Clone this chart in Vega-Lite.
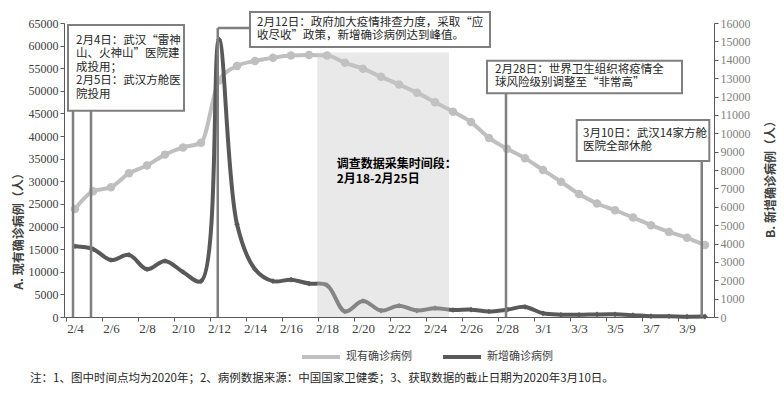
{
  "$schema": "https://vega.github.io/schema/vega-lite/v6.json",
  "width": 650,
  "height": 294,
  "autosize": "none",
  "padding": {"left": 64, "top": 23, "right": 70, "bottom": 78},
  "background": "white",
  "title": {
    "text": "注：1、图中时间点均为2020年；2、病例数据来源：中国国家卫健委；3、获取数据的截止日期为2020年3月10日。",
    "orient": "bottom", "anchor": "start", "frame": "group", "dx": -34, "offset": 8,
    "font": "Noto Sans CJK SC", "fontSize": 11.5, "fontWeight": "normal", "color": "#262626"
  },
  "datasets": {
    "cases": [
      {"date": "2020-02-04T00:00:00", "existing": 23900, "new": 3850},
      {"date": "2020-02-05T00:00:00", "existing": 27800, "new": 3700},
      {"date": "2020-02-06T00:00:00", "existing": 28700, "new": 3100},
      {"date": "2020-02-07T00:00:00", "existing": 31770, "new": 3380},
      {"date": "2020-02-08T00:00:00", "existing": 33500, "new": 2600},
      {"date": "2020-02-09T00:00:00", "existing": 35900, "new": 3050},
      {"date": "2020-02-10T00:00:00", "existing": 37500, "new": 2450},
      {"date": "2020-02-11T00:00:00", "existing": 38500, "new": 1950},
      {"date": "2020-02-12T00:00:00", "existing": 52300, "new": 15100},
      {"date": "2020-02-13T00:00:00", "existing": 55500, "new": 5050},
      {"date": "2020-02-14T00:00:00", "existing": 56600, "new": 2600},
      {"date": "2020-02-15T00:00:00", "existing": 57300, "new": 1950},
      {"date": "2020-02-16T00:00:00", "existing": 57800, "new": 2030},
      {"date": "2020-02-17T00:00:00", "existing": 57900, "new": 1820},
      {"date": "2020-02-18T00:00:00", "existing": 57800, "new": 1730},
      {"date": "2020-02-19T00:00:00", "existing": 56200, "new": 300},
      {"date": "2020-02-20T00:00:00", "existing": 54900, "new": 870},
      {"date": "2020-02-21T00:00:00", "existing": 53100, "new": 350},
      {"date": "2020-02-22T00:00:00", "existing": 51400, "new": 610},
      {"date": "2020-02-23T00:00:00", "existing": 49600, "new": 350},
      {"date": "2020-02-24T00:00:00", "existing": 47500, "new": 480},
      {"date": "2020-02-25T00:00:00", "existing": 45400, "new": 380},
      {"date": "2020-02-26T00:00:00", "existing": 43100, "new": 400},
      {"date": "2020-02-27T00:00:00", "existing": 39600, "new": 300},
      {"date": "2020-02-28T00:00:00", "existing": 37200, "new": 400},
      {"date": "2020-02-29T00:00:00", "existing": 35100, "new": 550},
      {"date": "2020-03-01T00:00:00", "existing": 32500, "new": 200},
      {"date": "2020-03-02T00:00:00", "existing": 29900, "new": 125},
      {"date": "2020-03-03T00:00:00", "existing": 27200, "new": 119},
      {"date": "2020-03-04T00:00:00", "existing": 25100, "new": 139},
      {"date": "2020-03-05T00:00:00", "existing": 23600, "new": 143},
      {"date": "2020-03-06T00:00:00", "existing": 22000, "new": 99},
      {"date": "2020-03-07T00:00:00", "existing": 20300, "new": 44},
      {"date": "2020-03-08T00:00:00", "existing": 18800, "new": 40},
      {"date": "2020-03-09T00:00:00", "existing": 17500, "new": 19},
      {"date": "2020-03-10T00:00:00", "existing": 15900, "new": 24}
    ],
    "shade": [
      {"x": "2020-02-17T11:00:00", "x2": "2020-02-24T18:40:00", "y": 0, "y2": 58500}
    ],
    "rules": [
      {"x": "2020-02-03T21:20:00", "x2": "2020-02-03T21:20:00", "y": 0, "y2": 45611},
      {"x": "2020-02-04T21:20:00", "x2": "2020-02-04T21:20:00", "y": 0, "y2": 45611},
      {"x": "2020-02-11T22:20:00", "x2": "2020-02-11T22:20:00", "y": 0, "y2": 63895},
      {"x": "2020-02-11T22:20:00", "x2": "2020-02-13T17:20:00", "y": 63895, "y2": 63895},
      {"x": "2020-02-27T22:40:00", "x2": "2020-02-27T22:40:00", "y": 0, "y2": 49458},
      {"x": "2020-03-09T19:40:00", "x2": "2020-03-09T19:40:00", "y": 0, "y2": 34490}
    ],
    "boxes": [
      {"x": "2020-02-03T14:40:00", "x2": "2020-02-10T01:20:00", "y": 45611, "y2": 64558},
      {"x": "2020-02-13T17:20:00", "x2": "2020-02-27T01:20:00", "y": 59694, "y2": 67432},
      {"x": "2020-02-26T21:20:00", "x2": "2020-03-08T17:20:00", "y": 49458, "y2": 56666},
      {"x": "2020-03-02T21:00:00", "x2": "2020-03-10T05:45:00", "y": 34490, "y2": 43555}
    ],
    "notes": [
      {"x": "2020-02-04T01:20:00", "y": 62414, "text": "2月4日：武汉“雷神\n山、火神山”医院建\n成投用；\n2月5日：武汉方舱医\n院投用"},
      {"x": "2020-02-14T02:40:00", "y": 66327, "text": "2月12日：政府加大疫情排查力度，采取“应\n收尽收”政策，新增确诊病例达到峰值。"},
      {"x": "2020-02-27T08:00:00", "y": 55936, "text": "2月28日：世界卫生组织将疫情全\n球风险级别调整至“非常高”"},
      {"x": "2020-03-03T05:20:00", "y": 41786, "text": "3月10日：武汉14家方舱\n医院全部休舱"}
    ],
    "shadeNote": [
      {"x": "2020-02-18T13:00:00", "y": 34822, "text": "调查数据采集时间段：\n2月18-2月25日"}
    ]
  },
  "layer": [
    {
      "data": {"name": "cases"},
      "encoding": {
        "x": {
          "field": "date", "type": "temporal", "title": null,
          "scale": {"domain": [{"year": 2020, "month": 2, "date": 3, "hours": 9, "minutes": 20}, {"year": 2020, "month": 3, "date": 10, "hours": 12}], "nice": false},
          "axis": {
            "values": [
              {"year": 2020, "month": 2, "date": 4}, {"year": 2020, "month": 2, "date": 6},
              {"year": 2020, "month": 2, "date": 8}, {"year": 2020, "month": 2, "date": 10},
              {"year": 2020, "month": 2, "date": 12}, {"year": 2020, "month": 2, "date": 14},
              {"year": 2020, "month": 2, "date": 16}, {"year": 2020, "month": 2, "date": 18},
              {"year": 2020, "month": 2, "date": 20}, {"year": 2020, "month": 2, "date": 22},
              {"year": 2020, "month": 2, "date": 24}, {"year": 2020, "month": 2, "date": 26},
              {"year": 2020, "month": 2, "date": 28}, {"year": 2020, "month": 3, "date": 1},
              {"year": 2020, "month": 3, "date": 3}, {"year": 2020, "month": 3, "date": 5},
              {"year": 2020, "month": 3, "date": 7}, {"year": 2020, "month": 3, "date": 9}
            ],
            "format": "%-m/%-d",
            "labelFont": "Liberation Serif", "labelFontSize": 13, "labelColor": "#404040",
            "tickSize": 4, "tickColor": "#595959", "domainColor": "#595959",
            "labelPadding": 1, "tickOffset": -9, "labelOffset": 9,
            "labelFlush": false, "labelOverlap": false, "grid": false
          }
        },
        "y": {
          "field": "existing", "type": "quantitative", "title": "A. 现有确诊病例（人）",
          "scale": {"domain": [0, 65000], "nice": false},
          "axis": {
            "orient": "left",
            "values": [0, 5000, 10000, 15000, 20000, 25000, 30000, 35000, 40000, 45000, 50000, 55000, 60000, 65000],
            "format": "d",
            "labelFont": "Liberation Serif", "labelFontSize": 12, "labelColor": "#404040",
            "tickSize": 4, "tickColor": "#595959", "domainColor": "#595959", "labelPadding": 2,
            "titleFont": "Noto Sans CJK SC", "titleFontWeight": "bold", "titleFontSize": 12, "titleColor": "#404040",
            "titleAngle": -90, "titleX": -46, "titleY": 205, "titleAlign": "center", "titleBaseline": "middle"
          }
        },
        "color": {
          "datum": "现有确诊病例",
          "scale": {"domain": ["现有确诊病例", "新增确诊病例"], "range": ["#bfbfbf", "#595959"]},
          "legend": {
            "orient": "none", "legendX": 236, "legendY": 313, "direction": "horizontal",
            "title": null, "symbolType": "stroke", "symbolSize": 1444, "symbolStrokeWidth": 4,
            "labelFont": "Noto Sans CJK SC", "labelFontSize": 11, "labelColor": "#404040",
            "columnPadding": 23, "labelOffset": 4, "padding": 0
          }
        }
      },
      "layer": [
        {"mark": {"type": "line", "strokeWidth": 4, "interpolate": "monotone"}},
        {"mark": {"type": "point", "filled": true, "size": 72, "opacity": 1}}
      ]
    },
    {
      "data": {"name": "cases"},
      "encoding": {
        "x": {
          "field": "date", "type": "temporal", "title": null,
          "scale": {"domain": [{"year": 2020, "month": 2, "date": 3, "hours": 9, "minutes": 20}, {"year": 2020, "month": 3, "date": 10, "hours": 12}], "nice": false},
          "axis": {
            "values": [
              {"year": 2020, "month": 2, "date": 4}, {"year": 2020, "month": 2, "date": 6},
              {"year": 2020, "month": 2, "date": 8}, {"year": 2020, "month": 2, "date": 10},
              {"year": 2020, "month": 2, "date": 12}, {"year": 2020, "month": 2, "date": 14},
              {"year": 2020, "month": 2, "date": 16}, {"year": 2020, "month": 2, "date": 18},
              {"year": 2020, "month": 2, "date": 20}, {"year": 2020, "month": 2, "date": 22},
              {"year": 2020, "month": 2, "date": 24}, {"year": 2020, "month": 2, "date": 26},
              {"year": 2020, "month": 2, "date": 28}, {"year": 2020, "month": 3, "date": 1},
              {"year": 2020, "month": 3, "date": 3}, {"year": 2020, "month": 3, "date": 5},
              {"year": 2020, "month": 3, "date": 7}, {"year": 2020, "month": 3, "date": 9}
            ],
            "format": "%-m/%-d",
            "labelFont": "Liberation Serif", "labelFontSize": 13, "labelColor": "#404040",
            "tickSize": 4, "tickColor": "#595959", "domainColor": "#595959",
            "labelPadding": 1, "tickOffset": -9, "labelOffset": 9,
            "labelFlush": false, "labelOverlap": false, "grid": false
          }
        },
        "y": {
          "field": "new", "type": "quantitative", "title": "B. 新增确诊病例（人）",
          "scale": {"domain": [0, 16000], "nice": false},
          "axis": {
            "orient": "right",
            "values": [0, 1000, 2000, 3000, 4000, 5000, 6000, 7000, 8000, 9000, 10000, 11000, 12000, 13000, 14000, 15000, 16000],
            "format": "d",
            "labelFont": "Liberation Serif", "labelFontSize": 12, "labelColor": "#7f7f7f",
            "tickSize": 4, "tickColor": "#595959", "domainColor": "#595959", "labelPadding": 2,
            "titleFont": "Noto Sans CJK SC", "titleFontWeight": "bold", "titleFontSize": 12, "titleColor": "#404040",
            "titleAngle": -90, "titleX": 56, "titleY": 153, "titleAlign": "center", "titleBaseline": "middle"
          }
        },
        "color": {
          "datum": "新增确诊病例",
          "scale": {"domain": ["现有确诊病例", "新增确诊病例"], "range": ["#bfbfbf", "#595959"]}
        }
      },
      "layer": [
        {"mark": {"type": "line", "strokeWidth": 4, "interpolate": "catmull-rom"}},
        {"mark": {"type": "point", "filled": true, "shape": "diamond", "size": 32, "opacity": 1}}
      ]
    },
    {
      "encoding": {
        "x": {
          "field": "x", "type": "temporal", "title": null,
          "scale": {"domain": [{"year": 2020, "month": 2, "date": 3, "hours": 9, "minutes": 20}, {"year": 2020, "month": 3, "date": 10, "hours": 12}], "nice": false},
          "axis": {
            "values": [
              {"year": 2020, "month": 2, "date": 4}, {"year": 2020, "month": 2, "date": 6},
              {"year": 2020, "month": 2, "date": 8}, {"year": 2020, "month": 2, "date": 10},
              {"year": 2020, "month": 2, "date": 12}, {"year": 2020, "month": 2, "date": 14},
              {"year": 2020, "month": 2, "date": 16}, {"year": 2020, "month": 2, "date": 18},
              {"year": 2020, "month": 2, "date": 20}, {"year": 2020, "month": 2, "date": 22},
              {"year": 2020, "month": 2, "date": 24}, {"year": 2020, "month": 2, "date": 26},
              {"year": 2020, "month": 2, "date": 28}, {"year": 2020, "month": 3, "date": 1},
              {"year": 2020, "month": 3, "date": 3}, {"year": 2020, "month": 3, "date": 5},
              {"year": 2020, "month": 3, "date": 7}, {"year": 2020, "month": 3, "date": 9}
            ],
            "format": "%-m/%-d",
            "labelFont": "Liberation Serif", "labelFontSize": 13, "labelColor": "#404040",
            "tickSize": 4, "tickColor": "#595959", "domainColor": "#595959",
            "labelPadding": 1, "tickOffset": -9, "labelOffset": 9,
            "labelFlush": false, "labelOverlap": false, "grid": false
          }
        },
        "y": {"field": "y", "type": "quantitative", "title": null, "scale": {"domain": [0, 65000], "nice": false}, "axis": null}
      },
      "layer": [
        {
          "data": {"name": "shade"},
          "mark": {"type": "rect", "fill": "#c8c8c8", "fillOpacity": 0.4},
          "encoding": {"x2": {"field": "x2"}, "y2": {"field": "y2"}}
        },
        {
          "data": {"name": "rules"},
          "mark": {"type": "rule", "color": "#7f7f7f", "strokeWidth": 2.5},
          "encoding": {"x2": {"field": "x2"}, "y2": {"field": "y2"}}
        },
        {
          "data": {"name": "boxes"},
          "mark": {"type": "rect", "fill": "white", "stroke": "#7f7f7f", "strokeWidth": 2},
          "encoding": {"x2": {"field": "x2"}, "y2": {"field": "y2"}}
        },
        {
          "data": {"name": "notes"},
          "mark": {"type": "text", "align": "left", "baseline": "top", "font": "Noto Sans CJK SC", "fontSize": 11.5, "lineBreak": "\n", "lineHeight": 13.5, "color": "#262626"},
          "encoding": {"text": {"field": "text", "type": "nominal"}}
        },
        {
          "data": {"name": "shadeNote"},
          "mark": {"type": "text", "align": "left", "baseline": "top", "font": "Noto Sans CJK SC", "fontSize": 12, "fontWeight": "bold", "lineBreak": "\n", "lineHeight": 15, "color": "#000000"},
          "encoding": {"text": {"field": "text", "type": "nominal"}}
        }
      ]
    }
  ],
  "resolve": {"scale": {"y": "independent"}},
  "config": {
    "view": {"stroke": null},
    "axis": {"grid": false},
    "font": "Noto Sans CJK SC"
  }
}
